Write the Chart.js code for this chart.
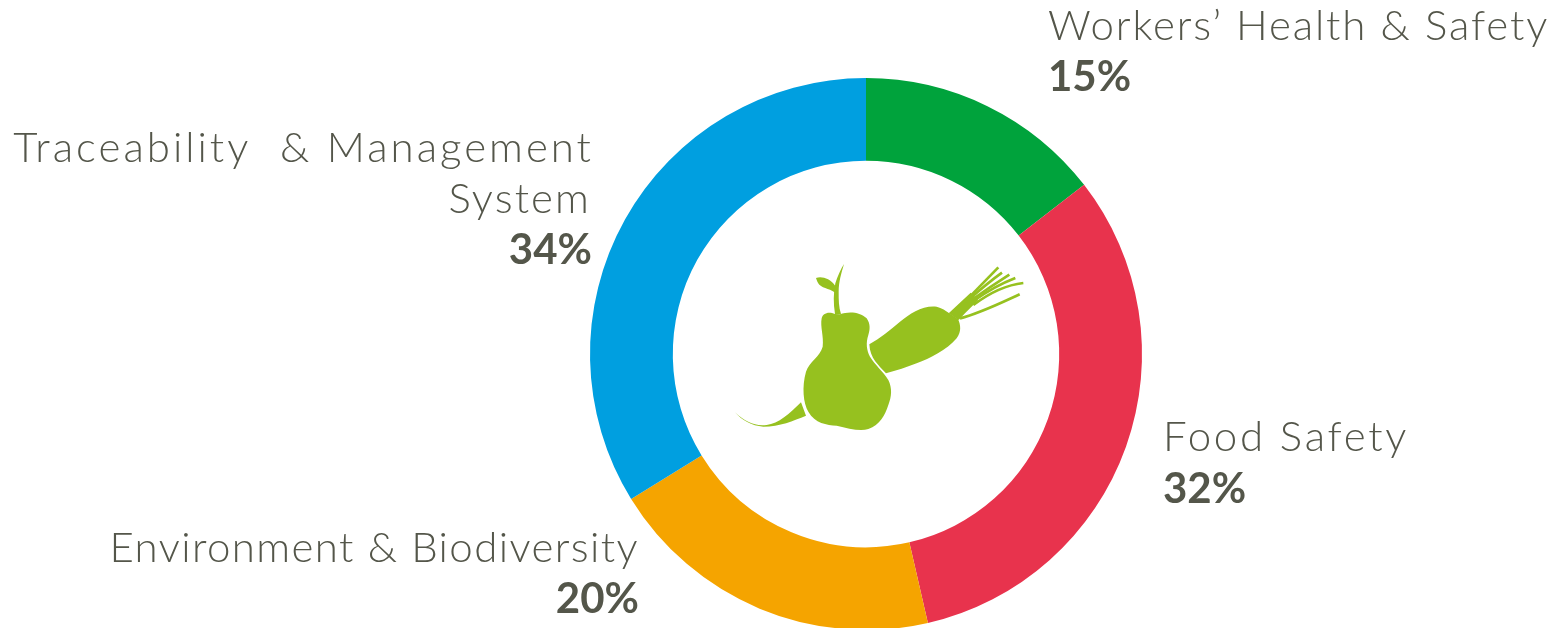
<!DOCTYPE html>
<html>
<head>
<meta charset="utf-8">
<style>
    html, body { margin: 0; padding: 0; background: #fff; overflow: hidden; width: 1558px; height: 628px; }
    #wrap { position: relative; width: 1558px; height: 660px; }
</style>
</head>
<body>
<div id="wrap"><canvas id="chart"></canvas></div>
<script src="https://cdn.jsdelivr.net/npm/chart.js@4/dist/chart.umd.min.js"></script>
<script>
var categories = ["Workers’ Health & Safety", 'Food Safety', 'Environment & Biodiversity', 'Traceability  & Management System'];
// slice sizes as measured on the ring, the printed labels are these rounded
var shares = [14.5, 31.9, 19.8, 33.8];
var sliceColors = ['#00a33c', '#e8334d', '#f5a400', '#009fe0'];

var TEXT_COLOR = '#54564a';
var ICON_COLOR = '#96c11f';

// text blocks next to the ring: percent anchor, align, and each line as text, letter spacing, x, y
var labelBlocks = [
    { percentX: 1048, percentY: 91, align: 'left', lines: [["Workers’ Health & Safety", 1.85, 1048, 40]] },
    { percentX: 1163, percentY: 503, align: 'left', lines: [['Food Safety', 2.7, 1163, 451]] },
    { percentX: 639, percentY: 613, align: 'right', lines: [['Environment & Biodiversity', 1.4, 639, 562]] },
    { percentX: 592, percentY: 264, align: 'right', lines: [['Traceability  & Management', 3.0, 594, 162], ['System', 2.1, 591, 213]] }
];

// the pear and carrot in the hole, traced at 3x
var pear = 'M305,205 C308,190 325,183 345,192 L360,193 C385,183 420,185 440,205 C452,222 450,240 445,255 C437,280 440,300 450,320 C465,345 490,365 505,390 C517,415 515,440 505,465 C495,495 480,525 445,537 C420,545 385,535 350,527 C320,525 285,520 265,485 C250,460 245,410 258,365 C268,335 300,320 308,290 C312,260 300,230 305,205 Z';
var stem = 'M345,192 C340,160 340,130 346,100 C352,80 362,58 372,42 C364,70 356,95 356,125 C356,150 356,170 363,192 Z';
var leaf = 'M288,84 C305,78 330,85 346,108 L350,132 C335,116 310,116 298,104 C292,98 290,90 288,84 Z';
var carrot = 'M448,283 C480,265 510,240 540,215 C570,190 610,165 650,170 C665,173 678,183 688,190 L714,207 C722,225 725,245 710,265 C680,300 630,325 590,340 C560,352 530,362 498,370 C475,345 450,325 448,283 Z';
var tail = 'M45,487 C75,515 105,530 140,525 C175,522 210,490 243,457 L258,497 C220,512 180,530 130,530 C95,528 65,510 45,487 Z';
var greensBase = 'M686,190 L752,128 L775,150 L735,190 L716,210 Z';
var greens = [
    'M735,155 L835,52',
    'M745,150 C785,115 815,90 846,68',
    'M755,150 C790,125 835,95 868,74',
    'M765,150 C800,125 845,100 886,84',
    'M760,165 C800,135 855,105 910,99',
    'M720,205 C780,190 840,160 899,133'
];

var labelsPlugin = {
    id: 'ringLabels',
    afterDraw: function (chart) {
        var ctx = chart.ctx;
        ctx.save();
        ctx.fillStyle = TEXT_COLOR;
        ctx.textBaseline = 'alphabetic';
        labelBlocks.forEach(function (block, i) {
            ctx.textAlign = block.align;
            ctx.font = '300 42px Lato';
            block.lines.forEach(function (line) {
                ctx.letterSpacing = line[1] + 'px';
                ctx.fillText(line[0], line[2], line[3]);
            });
            ctx.letterSpacing = '0px';
            ctx.font = '700 42px Lato';
            ctx.fillText(Math.round(shares[i]) + '%', block.percentX, block.percentY);
        });
        ctx.restore();
    }
};

var iconPlugin = {
    id: 'centerIcon',
    afterDraw: function (chart) {
        var ctx = chart.ctx;
        ctx.save();
        ctx.translate(720, 250);
        ctx.scale(1 / 3, 1 / 3);
        ctx.fillStyle = ICON_COLOR;
        [pear, stem, leaf, carrot, tail, greensBase].forEach(function (d) {
            ctx.fill(new Path2D(d));
        });
        ctx.strokeStyle = ICON_COLOR;
        ctx.lineWidth = 8;
        ctx.lineCap = 'butt';
        greens.forEach(function (d) {
            ctx.stroke(new Path2D(d));
        });
        ctx.restore();
    }
};

new Chart(document.getElementById('chart').getContext('2d'), {
    type: 'doughnut',
    data: {
        labels: categories,
        datasets: [{
            data: shares,
            backgroundColor: sliceColors,
            borderWidth: 0
        }]
    },
    options: {
        responsive: true,
        maintainAspectRatio: false,
        animation: false,
        cutout: '70%',
        layout: {
            padding: { left: 590, right: 416, top: 78, bottom: 30 }
        },
        plugins: {
            legend: { display: false },
            title: { display: false },
            tooltip: { enabled: false }
        }
    },
    plugins: [labelsPlugin, iconPlugin]
});
</script>
</body>
</html>
